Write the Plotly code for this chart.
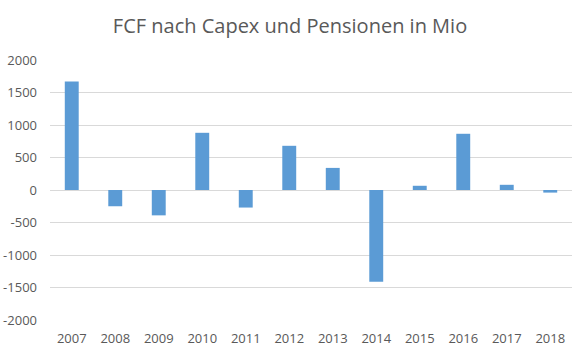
import plotly.graph_objects as go

years = ["2007", "2008", "2009", "2010", "2011", "2012", "2013", "2014", "2015", "2016", "2017", "2018"]
fcf = [1670, -250, -390, 880, -270, 680, 340, -1410, 65, 865, 80, -40]
y_ticks = [-2000, -1500, -1000, -500, 0, 500, 1000, 1500, 2000]

fig = go.Figure(go.Bar(x=years, y=fcf, marker=dict(color="#5b9bd5", line=dict(width=0))))

fig.update_layout(
    width=580, height=356,
    margin=dict(l=50, r=8, t=60, b=36, autoexpand=False),
    paper_bgcolor="white", plot_bgcolor="white",
    bargap=0.68,
    showlegend=False,
    title=dict(text="FCF nach Capex und Pensionen in Mio", x=0.5, xanchor="center",
               y=0.927, yanchor="middle",
               font=dict(family="Open Sans", size=20, color="#595959")),
    font=dict(family="Open Sans", size=13, color="#595959"),
)
fig.update_xaxes(type="category", showgrid=False, showline=False, ticks="",
                 ticklabelstandoff=9,
                 tickfont=dict(size=13, color="#595959"))
fig.update_yaxes(range=[-2000, 2000], tickvals=y_ticks, ticktext=[str(v) for v in y_ticks],
                 showgrid=True, gridcolor="#d9d9d9", gridwidth=1,
                 zeroline=True, zerolinecolor="#d9d9d9", zerolinewidth=1,
                 showline=False, ticks="", ticklabelstandoff=12,
                 tickfont=dict(size=13, color="#595959"))

fig.write_html("out.html", config={"displayModeBar": False},
               post_script="document.body.style.margin='0';")
